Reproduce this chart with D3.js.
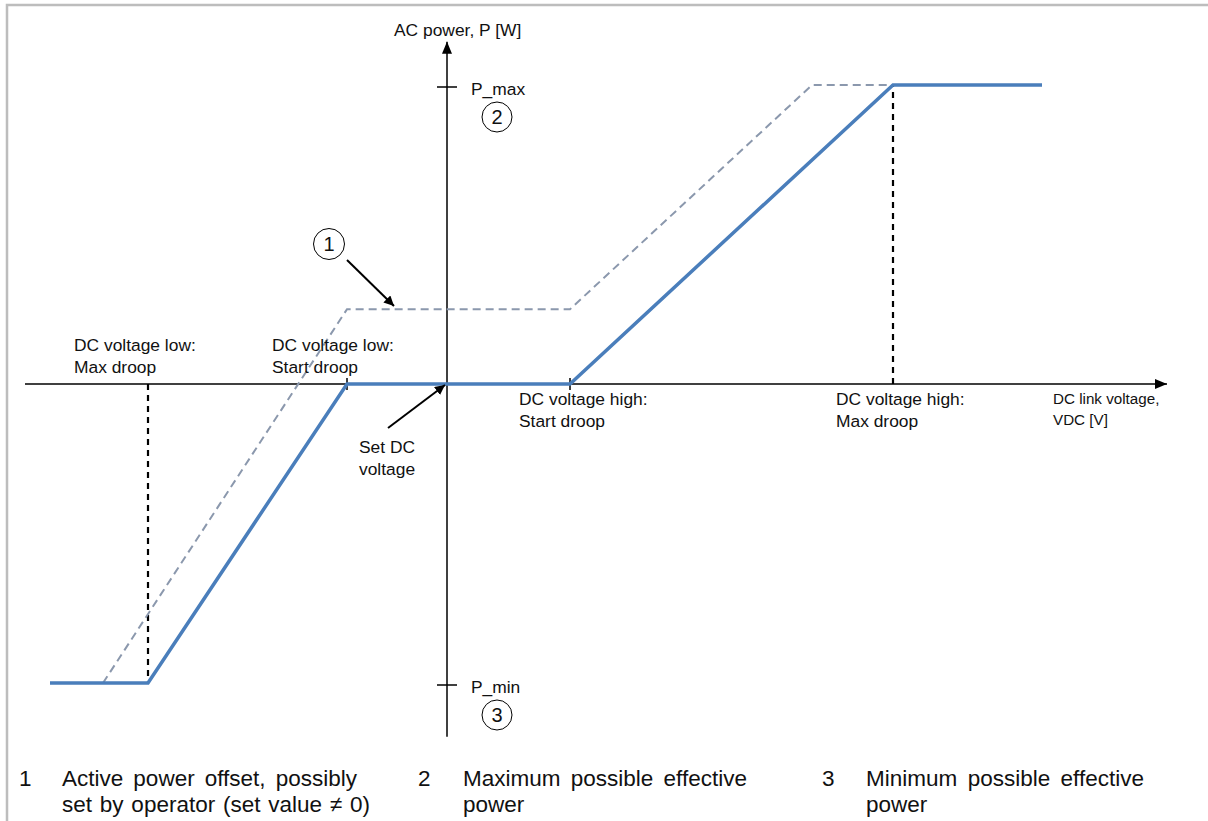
<!DOCTYPE html>
<html>
<head>
<meta charset="utf-8">
<script src="https://cdn.jsdelivr.net/npm/d3@7"></script>
<style>
  body { margin: 0; background: #fff; }
  svg text { font-family: "Liberation Sans", Arial, sans-serif; fill: #111; }
</style>
</head>
<body>
<svg id="chart" width="1208" height="821"></svg>
<script>
// characteristic: DC link voltage (relative to set value) vs AC power (normalised)
const droopVdc = [-397, -299, -100, 0, 123, 446, 595];
const droopP = [-1, -1, 0, 0, 0, 1, 1];
const offsetVdc = [-344, -100, 123, 365, 446];
const offsetP = [-1, 0.25, 0.25, 1, 1];
const breakVdc = [-299, -100, 123, 446];
const breakLabels = [
  ["DC voltage low:", "Max droop"],
  ["DC voltage low:", "Start droop"],
  ["DC voltage high:", "Start droop"],
  ["DC voltage high:", "Max droop"]
];
const powerLevels = [1, -1];
const powerLabels = ["P_max", "P_min"];
const powerMarks = ["2", "3"];
const notes = [
  ["1", "Active power offset, possibly", "set by operator (set value \u2260 0)"],
  ["2", "Maximum possible effective", "power"],
  ["3", "Minimum possible effective", "power"]
];

const svg = d3.select("#chart");

const x = d3.scaleLinear().domain([-422, 720]).range([25, 1167]);
const y = d3.scaleLinear().domain([-1, 1]).range([683, 85]);

const blue = "#4a7ebb";
const grey = "#8b98ad";

// frame
svg.append("path")
  .attr("d", "M7,821V5H1208")
  .attr("fill", "none")
  .attr("stroke", "#bdbdbd")
  .attr("stroke-width", 2.5);

const defs = svg.append("defs");
defs.append("marker")
  .attr("id", "head")
  .attr("viewBox", "0 0 10 10")
  .attr("refX", 10).attr("refY", 5)
  .attr("markerWidth", 10).attr("markerHeight", 10)
  .attr("markerUnits", "userSpaceOnUse")
  .attr("orient", "auto")
  .append("path").attr("d", "M0,0L10,5L0,10Z").attr("fill", "#000");
defs.append("marker")
  .attr("id", "axhead")
  .attr("viewBox", "0 0 12 10")
  .attr("refX", 12).attr("refY", 5)
  .attr("markerWidth", 12).attr("markerHeight", 10)
  .attr("markerUnits", "userSpaceOnUse")
  .attr("orient", "auto")
  .append("path").attr("d", "M0,0L12,5L0,10Z").attr("fill", "#000");

// reference dashed verticals at max droop points
svg.append("g").selectAll("line")
  .data([breakVdc[0], breakVdc[3]])
  .enter().append("line")
  .attr("x1", d => x(d)).attr("x2", d => x(d))
  .attr("y1", y(0))
  .attr("y2", (d, i) => y(i === 0 ? -1 : 1))
  .attr("stroke", "#000")
  .attr("stroke-width", 2.2)
  .attr("stroke-dasharray", "6,5");

// axes
svg.append("line")
  .attr("x1", x(-422)).attr("x2", x(720))
  .attr("y1", y(0)).attr("y2", y(0))
  .attr("stroke", "#000").attr("stroke-width", 1.5)
  .attr("marker-end", "url(#axhead)");
svg.append("line")
  .attr("x1", x(0)).attr("x2", x(0))
  .attr("y1", y(-1.18)).attr("y2", y(1.145))
  .attr("stroke", "#000").attr("stroke-width", 1.5)
  .attr("marker-end", "url(#axhead)");

// small ticks at start droop points
svg.append("g").selectAll("line")
  .data([breakVdc[1], breakVdc[2]])
  .enter().append("line")
  .attr("x1", d => x(d)).attr("x2", d => x(d))
  .attr("y1", y(0) - 6).attr("y2", y(0) + 6)
  .attr("stroke", "#000").attr("stroke-width", 1.5);

// power ticks
svg.append("g").selectAll("line")
  .data(powerLevels)
  .enter().append("line")
  .attr("x1", x(0) - 10).attr("x2", x(0) + 10)
  .attr("y1", d => y(d) + 2).attr("y2", d => y(d) + 2)
  .attr("stroke", "#000").attr("stroke-width", 1.5);

const line = d3.line().x(d => x(d[0])).y(d => y(d[1]));

svg.append("path")
  .datum(d3.zip(offsetVdc, offsetP))
  .attr("d", line)
  .attr("fill", "none")
  .attr("stroke", grey)
  .attr("stroke-width", 2)
  .attr("stroke-dasharray", "8,5");

svg.append("path")
  .datum(d3.zip(droopVdc, droopP))
  .attr("d", line)
  .attr("fill", "none")
  .attr("stroke", blue)
  .attr("stroke-width", 3.5);

// axis titles
svg.append("text")
  .attr("x", x(0) - 53).attr("y", 36)
  .attr("font-size", 17.4)
  .text("AC power, P [W]");
const xt = svg.append("text").attr("font-size", 15.2);
xt.append("tspan").attr("x", 1053).attr("y", 404).text("DC link voltage,");
xt.append("tspan").attr("x", 1053).attr("y", 425).text("VDC [V]");

// breakpoint labels
const labelPos = [[74, 351], [272, 351], [519, 405], [836, 405]];
breakLabels.forEach((lines, i) => {
  const t = svg.append("text").attr("font-size", 17.4);
  lines.forEach((s, j) => {
    t.append("tspan").attr("x", labelPos[i][0]).attr("y", labelPos[i][1] + j * 22).text(s);
  });
});

// set DC voltage callout
svg.append("line")
  .attr("x1", 388).attr("y1", 428)
  .attr("x2", x(0) - 2).attr("y2", y(0) + 1)
  .attr("stroke", "#000").attr("stroke-width", 2)
  .attr("marker-end", "url(#head)");
const sd = svg.append("text").attr("font-size", 17.4);
sd.append("tspan").attr("x", 359).attr("y", 453).text("Set DC");
sd.append("tspan").attr("x", 359).attr("y", 475).text("voltage");

// P_max / P_min labels with circled numbers
powerLevels.forEach((p, i) => {
  svg.append("text")
    .attr("x", x(0) + 24).attr("y", y(p) + 10)
    .attr("font-size", 17.4)
    .text(powerLabels[i]);
  const cy = y(p) + 32;
  svg.append("circle")
    .attr("cx", 497).attr("cy", cy).attr("r", 15)
    .attr("fill", "#fff").attr("stroke", "#000").attr("stroke-width", 1);
  svg.append("text")
    .attr("x", 497).attr("y", cy + 7)
    .attr("text-anchor", "middle")
    .attr("font-size", 20)
    .text(powerMarks[i]);
});

// offset callout
svg.append("circle")
  .attr("cx", 329).attr("cy", 244).attr("r", 15.5)
  .attr("fill", "#fff").attr("stroke", "#000").attr("stroke-width", 1);
svg.append("text")
  .attr("x", 329).attr("y", 251)
  .attr("text-anchor", "middle")
  .attr("font-size", 20)
  .text("1");
svg.append("line")
  .attr("x1", 347).attr("y1", 260)
  .attr("x2", 394).attr("y2", 306)
  .attr("stroke", "#000").attr("stroke-width", 2)
  .attr("marker-end", "url(#head)");

// notes below the chart, justified like the source
const noteX = [[19, 62], [418, 463], [822, 866]];
const noteW = [[295, 308], [284, null], [278, null]];
notes.forEach((n, i) => {
  svg.append("text")
    .attr("x", noteX[i][0]).attr("y", 786)
    .attr("font-size", 22.5)
    .text(n[0]);
  [n[1], n[2]].forEach((s, j) => {
    const t = svg.append("text")
      .attr("x", noteX[i][1]).attr("y", 786 + j * 26)
      .attr("font-size", 22.5)
      .text(s);
    const w = noteW[i][j];
    if (w) {
      const gaps = s.split(" ").length - 1;
      const natural = t.node().getComputedTextLength();
      if (gaps > 0) t.attr("word-spacing", Math.max(0, (w - natural) / gaps));
    }
  });
});
</script>
</body>
</html>
